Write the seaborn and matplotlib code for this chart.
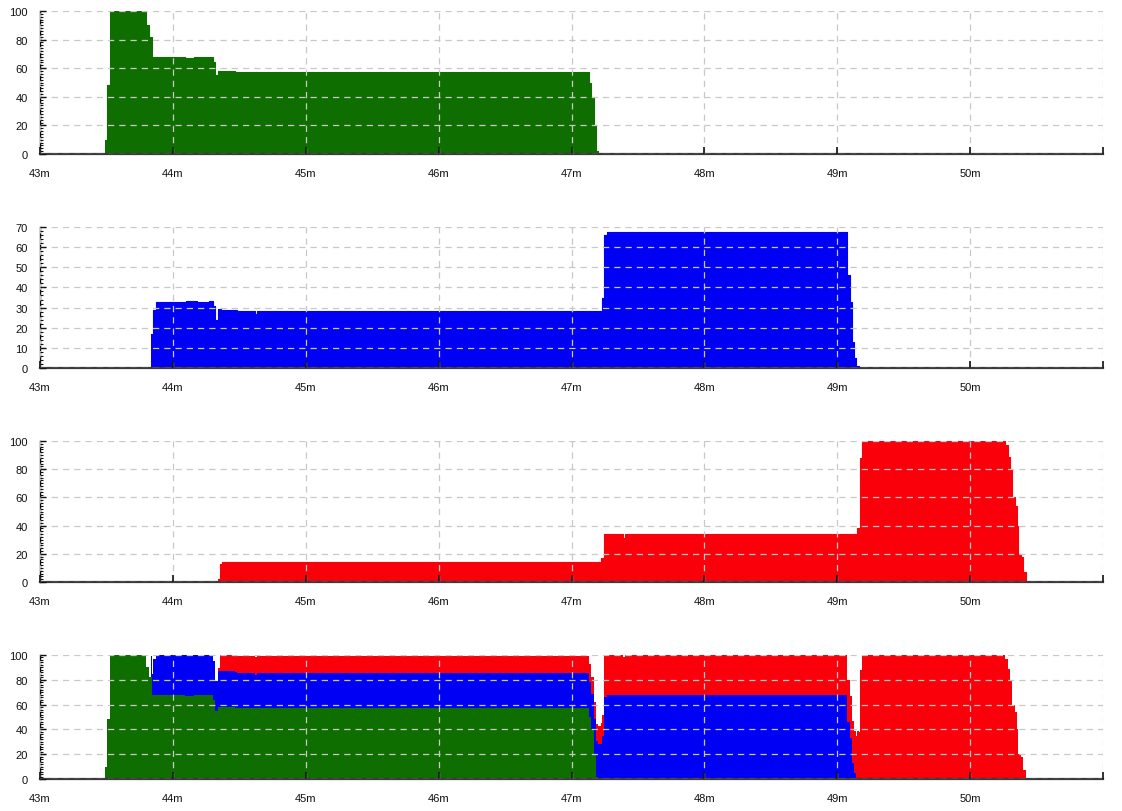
import numpy as np
import pandas as pd
import matplotlib
matplotlib.use("Agg")
import matplotlib.pyplot as plt
from matplotlib.ticker import MultipleLocator
import seaborn as sns

# ---- data (time in minutes, value at step start) ----
green_t = [43.49, 43.505, 43.525, 43.80, 43.82, 43.84, 44.09, 44.16, 44.30, 44.32, 44.34, 44.47,
           47.13, 47.15, 47.17, 47.185, 47.20]
green_v = [10, 48, 100, 90, 82, 68, 67, 68, 64, 55, 58, 57,
           50, 40, 20, 2, 0]

blue_t = [43.836, 43.85, 43.87, 44.10, 44.18, 44.27, 44.305, 44.32, 44.34, 44.365, 44.48, 44.62, 44.63,
          47.228, 47.245, 47.265, 49.074, 49.094, 49.109, 49.124, 49.144, 49.162]
blue_v = [17, 29, 33, 33.5, 33, 33.5, 31, 24, 29.5, 29, 28.5, 27, 28.5,
          35, 66, 67.5, 46, 33, 13, 5, 1, 0]

red_t = [44.34, 44.355, 44.37, 47.223, 47.241, 47.384, 47.40, 49.149, 49.17, 49.188,
         50.265, 50.283, 50.299, 50.317, 50.335, 50.351, 50.364, 50.382, 50.40, 50.421]
red_v = [2, 13, 14, 17, 34, 31, 34, 38, 88, 100,
         97, 89, 80, 60, 54, 40, 20, 18, 7, 0]

x_ticks = [43, 44, 45, 46, 47, 48, 49, 50, 51]
x_labels = ["43m", "44m", "45m", "46m", "47m", "48m", "49m", "50m", ""]

GREEN = "#0f6e00"
BLUE = "#0000f5"
RED = "#fa000a"

sns.set_style("white")
plt.rcParams["font.family"] = ["Liberation Sans", "DejaVu Sans"]

fig = plt.figure(figsize=(11.22, 8.12), dpi=100)
L, W = 40 / 1122, 1063 / 1122
rects = [
    (L, 1 - 155 / 812, W, 143 / 812),
    (L, 1 - 369 / 812, W, 141 / 812),
    (L, 1 - 583 / 812, W, 141 / 812),
    (L, 1 - 780 / 812, W, 124 / 812),
]
axes = [fig.add_axes(r) for r in rects]


def style(ax, ymax, ystep):
    ax.set_xlim(43, 51)
    ax.set_ylim(0, ymax)
    ax.set_xticks(x_ticks)
    ax.set_xticklabels(x_labels)
    ax.set_yticks(np.arange(0, ymax + 1, ystep))
    ax.yaxis.set_minor_locator(MultipleLocator(2))
    for s in ["top", "right"]:
        ax.spines[s].set_visible(False)
    ax.spines["left"].set_color("#111111")
    ax.spines["left"].set_linewidth(1.0)
    ax.spines["bottom"].set_color("#3a3a3a")
    ax.spines["bottom"].set_linewidth(1.6)
    ax.tick_params(axis="y", which="major", direction="in", length=4, width=1,
                   color="#111111", labelsize=8, pad=9, left=True)
    ax.tick_params(axis="y", which="minor", direction="in", length=2.5, width=0.8,
                   color="#111111", left=True)
    ax.tick_params(axis="x", which="major", direction="in", length=5, width=1.2,
                   color="#111111", labelsize=8, pad=10, bottom=True)
    ax.grid(True, which="major", color="#c8c8c8", linestyle=(0, (5, 4)), linewidth=0.9)
    ax.set_axisbelow(False)
    ax.set_xlabel("")
    ax.set_ylabel("")
    for lab in ax.get_xticklabels() + ax.get_yticklabels():
        lab.set_color("#111111")


for ax, t, v, c, ymax, ystep in [
    (axes[0], green_t, green_v, GREEN, 100, 20),
    (axes[1], blue_t, blue_v, BLUE, 70, 10),
    (axes[2], red_t, red_v, RED, 100, 20),
]:
    ax.fill_between(t, v, 0, step="post", color=c, linewidth=0, zorder=1)
    sns.lineplot(x=t, y=v, drawstyle="steps-post", color=c, linewidth=0.8, ax=ax,
                 sort=False, estimator=None, zorder=1.1)
    style(ax, ymax, ystep)

# stacked panel built from the same three series
sg = pd.Series(green_v, index=green_t)
sb = pd.Series(blue_v, index=blue_t)
sr = pd.Series(red_v, index=red_t)
idx = sorted(set(green_t) | set(blue_t) | set(red_t))
g = sg.reindex(idx).ffill().fillna(0).values
b = sb.reindex(idx).ffill().fillna(0).values
r = sr.reindex(idx).ffill().fillna(0).values
axes[3].stackplot(idx, g, b, r, colors=[GREEN, BLUE, RED], step="post", linewidth=0, zorder=1)
style(axes[3], 100, 20)

fig.savefig("out.png", dpi=100)
